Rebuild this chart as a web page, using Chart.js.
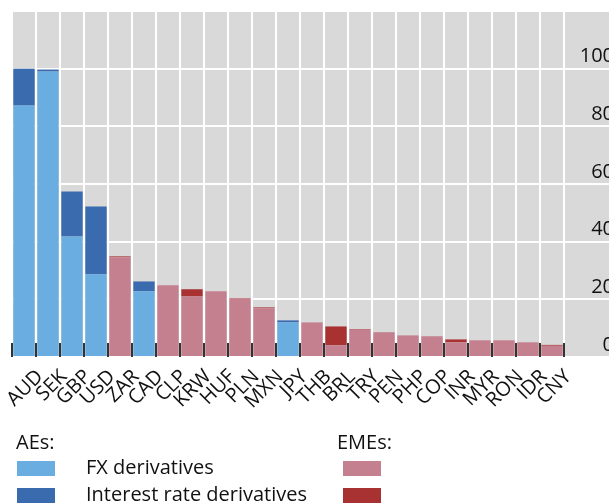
<!DOCTYPE html>
<html>
<head>
<meta charset="utf-8">
<script src="https://cdn.jsdelivr.net/npm/chart.js@4.4.1/dist/chart.umd.min.js"></script>
<style>
  html, body { margin:0; padding:0; background:#fff; overflow:hidden; width:609px; height:503px; }
  #wrap { position:relative; width:609px; height:503px; overflow:hidden; }
  canvas { position:absolute; left:0; top:0; }
  .lg { position:absolute; font-family:"Open Sans", sans-serif; font-size:20px; line-height:20px; color:#111; white-space:nowrap; }
  .sw { position:absolute; width:38px; height:15px; }
</style>
</head>
<body>
<div id="wrap">
  <canvas id="c" width="614" height="430"></canvas>
  <div class="lg" style="left:16px;top:432px;">AEs:</div>
  <div class="lg" style="left:337px;top:432px;">EMEs:</div>
  <div class="sw" style="left:17px;top:461px;background:#6AADE0;"></div>
  <div class="sw" style="left:17px;top:488px;background:#3A6BAE;"></div>
  <div class="sw" style="left:343px;top:461px;background:#C4808F;"></div>
  <div class="sw" style="left:343px;top:488px;background:#A83232;"></div>
  <div class="lg" style="left:86px;top:457px;">FX derivatives</div>
  <div class="lg" style="left:86px;top:484px;">Interest rate derivatives</div>
</div>
<script>
const categories = ["AUD","SEK","GBP","USD","ZAR","CAD","CLP","KRW","HUF","PLN","MXN","JPY","THB","BRL","TRY","PEN","PHP","COP","INR","MYR","RON","IDR","CNY"];
const aeFx  = [87.2, 99.0, 41.8, 28.7, null, 22.8, null, null, null, null, null, 12.0, null, null, null, null, null, null, null, null, null, null, null];
const aeIr  = [12.8,  0.7, 15.6, 23.5, null,  3.4, null, null, null, null, null,  0.7, null, null, null, null, null, null, null, null, null, null, null];
const emeFx = [null, null, null, null, 34.6, null, 24.9, 21.0, 22.8, 20.2, 16.9, null, 12.0, 4.1, 9.4, 8.6, 7.5, 7.2, 5.1, 5.8, 5.8, 5.1, 3.9];
const emeIr = [null, null, null, null,  0.3, null,  0.0,  2.5,  0.0,  0.2,  0.3, null,  0.0, 6.5, 0.2, 0.0, 0.0, 0.0, 1.0, 0.0, 0.0, 0.0, 0.3];
const yMin = 0, yMax = 120, yStep = 20;

const bgPlugin = {
  id: 'bg',
  beforeDraw(chart) {
    const { ctx, chartArea: a } = chart;
    ctx.save();
    ctx.fillStyle = '#D9D9D9';
    ctx.fillRect(a.left, a.top, chart.width - a.left, a.bottom - a.top);
    ctx.restore();
  }
};

// dark category-boundary tick marks drawn inside the plot, above the bars
const innerTicks = {
  id: 'innerTicks',
  afterDatasetsDraw(chart) {
    const { ctx, chartArea: a } = chart;
    const xs = chart.scales.x;
    const n = chart.data.labels.length;
    ctx.save();
    ctx.strokeStyle = '#333333';
    ctx.lineWidth = 2;
    ctx.beginPath();
    for (let i = 0; i <= n; i++) {
      const x = Math.round(xs.getPixelForValue(i - 0.5));
      ctx.moveTo(x, a.bottom);
      ctx.lineTo(x, a.bottom - 14);
    }
    ctx.stroke();
    ctx.restore();
  }
};

const font = { family: '"Open Sans", sans-serif', size: 20 };
const common = { barPercentage: 0.89, categoryPercentage: 1, borderWidth: 0, stack: 's' };

new Chart(document.getElementById('c'), {
  type: 'bar',
  data: {
    labels: categories,
    datasets: [
      Object.assign({ label: 'AEs FX derivatives', data: aeFx, backgroundColor: '#6AADE0' }, common),
      Object.assign({ label: 'AEs Interest rate derivatives', data: aeIr, backgroundColor: '#3A6BAE' }, common),
      Object.assign({ label: 'EMEs FX derivatives', data: emeFx, backgroundColor: '#C4808F' }, common),
      Object.assign({ label: 'EMEs Interest rate derivatives', data: emeIr, backgroundColor: '#A83232' }, common)
    ]
  },
  options: {
    responsive: false,
    devicePixelRatio: 1,
    animation: false,
    layout: { padding: { left: 12, top: 11, right: 0, bottom: 0 } },
    plugins: { legend: { display: false }, tooltip: { enabled: false } },
    scales: {
      x: {
        stacked: true,
        grid: { color: '#FFFFFF', lineWidth: 2, offset: true, drawTicks: false },
        border: { display: false },
        ticks: { font: font, color: '#111', minRotation: 45, maxRotation: 45, autoSkip: false, labelOffset: 16, padding: 8 },
        afterFit(s) { s.height = 430 - 357; s.paddingLeft = 0; s.paddingRight = 0; }
      },
      y: {
        stacked: true,
        position: 'right',
        min: yMin, max: yMax,
        grid: { color: '#FFFFFF', lineWidth: 2, drawTicks: true, tickLength: 50, tickColor: '#FFFFFF', tickWidth: 2 },
        border: { display: false },
        ticks: {
          stepSize: yStep, font: font, color: '#111', crossAlign: 'far', padding: -36, labelOffset: -12,
          callback: (v) => (v === yMax ? '' : String(v))
        },
        afterFit(s) { s.width = 50; }
      }
    }
  },
  plugins: [bgPlugin, innerTicks]
});
</script>
</body>
</html>
